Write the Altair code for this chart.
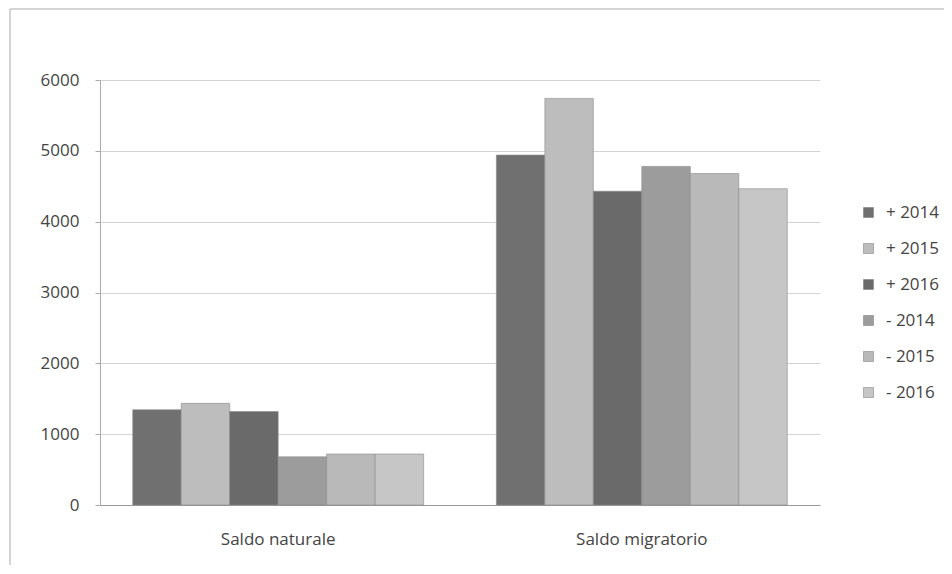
import altair as alt
import pandas as pd

categories = ["Saldo naturale", "Saldo migratorio"]
series = ["+ 2014", "+ 2015", "+ 2016", "- 2014", "- 2015", "- 2016"]
saldo_naturale = [1345, 1435, 1320, 680, 720, 720]
saldo_migratorio = [4940, 5740, 4430, 4780, 4680, 4465]
colors = ["#707070", "#bdbdbd", "#6a6a6a", "#9c9c9c", "#b9b9b9", "#c6c6c6"]

rows = []
for s, v in zip(series, saldo_naturale):
    rows.append({"cat": categories[0], "serie": s, "value": v})
for s, v in zip(series, saldo_migratorio):
    rows.append({"cat": categories[1], "serie": s, "value": v})
df = pd.DataFrame(rows)

FONT = "Open Sans"

bars = alt.Chart(df).mark_bar(stroke="#8a8a8a", strokeWidth=0.6).encode(
    x=alt.X("cat:N", sort=categories, title=None,
            scale=alt.Scale(paddingInner=0.2, paddingOuter=0.09),
            axis=alt.Axis(labelAngle=0, labelFontSize=17, labelColor="#444",
                          labelFont=FONT, ticks=False, grid=False, domainColor="#999",
                          labelPadding=26)),
    xOffset=alt.XOffset("serie:N", sort=series, scale=alt.Scale(paddingInner=0, paddingOuter=0)),
    y=alt.Y("value:Q", title=None,
            scale=alt.Scale(domain=[0, 6000]),
            axis=alt.Axis(values=[0, 1000, 2000, 3000, 4000, 5000, 6000], format="d",
                          labelFontSize=17, labelColor="#444", labelFont=FONT,
                          gridColor="#d4d4d4", domainColor="#aaa", tickColor="#aaa",
                          tickSize=5, labelPadding=16)),
    color=alt.Color("serie:N", sort=series, title=None,
                    scale=alt.Scale(domain=series, range=colors),
                    legend=alt.Legend(orient="none", legendX=760, legendY=124,
                                      symbolType="square", symbolSize=100,
                                      symbolStrokeColor="#777", symbolStrokeWidth=0.5,
                                      labelFontSize=17, labelFont=FONT, labelColor="#444",
                                      rowPadding=18, labelOffset=9)),
)

frame = alt.Chart(pd.DataFrame({"k": [0]})).mark_rect(
    fill=None, stroke="#aaaaaa", strokeWidth=1
).encode(x=alt.value(-90), x2=alt.value(860), y=alt.value(-71), y2=alt.value(500))

chart = alt.layer(frame, bars).properties(
    width=720, height=425,
    autosize=alt.AutoSizeParams(type="none"),
    padding={"left": 92, "top": 72, "right": 124, "bottom": 60},
).configure(
    background="white",
    view=alt.ViewConfig(stroke="transparent", strokeWidth=0),
)

chart.save("out.html", embed_options={"renderer": "svg", "actions": False})
